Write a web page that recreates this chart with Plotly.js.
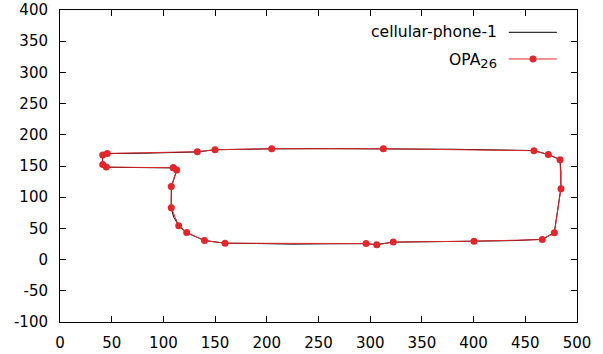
<!DOCTYPE html>
<html>
<head>
<meta charset="utf-8">
<script src="https://cdn.plot.ly/plotly-3.0.1.min.js"></script>
<style>html,body{margin:0;padding:0;background:#fff;}#chart{width:603px;height:354px;}</style>
</head>
<body>
<div id="chart"></div>
<script>
// cellular-phone-1 contour (black)
const phoneX = [109, 80, 45, 41.5, 41, 41.5, 45.5, 80, 132.5, 150, 204, 260, 313, 380, 458, 472, 483.5, 484.5, 484.3, 481, 478, 466, 440, 400, 360, 322, 306, 296, 260, 224, 190, 160, 140, 122.5, 115, 110, 107.5, 107.3, 107.8, 113, 109.5];
const phoneY = [147, 147.5, 148, 152, 160, 167.5, 170, 170.5, 172.5, 176, 177.5, 177.8, 177.6, 176.8, 174.8, 168.5, 160.5, 140, 113.5, 75, 43, 32.5, 30.5, 29.5, 28.6, 28, 24, 25.5, 25.3, 24.8, 25.8, 26.3, 30.5, 43, 54, 68, 83, 100, 117, 143.5, 147.2];
// OPA_26 approximation (red, 26 points, closed)
const opaX = [109.6, 44.8, 41.3, 41.3, 45.7, 132.8, 149.9, 204.7, 312.7, 458.4, 472.2, 483.6, 484.5, 478.1, 466.4, 400.4, 322.3, 306.3, 296.0, 159.6, 139.7, 122.5, 114.8, 107.6, 107.6, 112.9, 109.6];
const opaY = [147.2, 148.3, 152.5, 167.6, 170.1, 172.9, 176.1, 177.7, 177.7, 174.5, 168.5, 160.0, 113.5, 42.9, 32.1, 29.5, 28.1, 23.6, 25.7, 26.3, 30.5, 43.3, 54.1, 83.0, 117.2, 143.5, 147.2];
// tick labels
const yTickVals = [-100, -50, 0, 50, 100, 150, 200, 250, 300, 350, 400];
const yTickText = ["-100", "-50", "0", "50", "100", "150", "200", "250", "300", "350", "400"];
const legendNames = ["cellular-phone-1", "OPA<sub><span style='font-size:13px'>26</span></sub>"];
const red = "#e3262b";

const font = {family: "DejaVu Sans", size: 15, color: "#000"};
const legendFont = {family: "DejaVu Sans", size: 15.6, color: "#000"};
const traces = [
  {x: phoneX, y: phoneY, mode: "lines", line: {color: "#000", width: 1}, name: "cellular-phone-1", showlegend: false, hoverinfo: "skip"},
  {x: opaX, y: opaY, mode: "lines+markers", line: {color: red, width: 1}, marker: {color: red, size: 7}, name: "OPA26", showlegend: false}
];
const axisCommon = {showline: true, mirror: "allticks", linecolor: "#000", linewidth: 1,
  ticks: "inside", ticklen: 6, tickcolor: "#000", tickwidth: 1, showgrid: false, zeroline: false,
  tickfont: font, fixedrange: true};
const layout = {
  width: 603, height: 354,
  margin: {l: 60, r: 26, t: 10, b: 32, pad: 0},
  paper_bgcolor: "#fff", plot_bgcolor: "#fff",
  font: font,
  showlegend: false,
  xaxis: Object.assign({}, axisCommon, {range: [0, 500], tick0: 0, dtick: 50, ticklabelstandoff: 7}),
  yaxis: Object.assign({}, axisCommon, {range: [-100, 400], tickmode: "array", tickvals: yTickVals, ticktext: yTickText, ticklabelstandoff: 8}),
  annotations: [
    {xref: "paper", yref: "paper", x: 0.849, y: 0.9285, xanchor: "right", yanchor: "middle", text: legendNames[0], showarrow: false, font: legendFont},
    {xref: "paper", yref: "paper", x: 0.849, y: 0.838, xanchor: "right", yanchor: "middle", text: legendNames[1], showarrow: false, font: legendFont}
  ],
  shapes: [
    {type: "line", xref: "paper", yref: "paper", x0: 0.868, x1: 0.961, y0: 0.9285, y1: 0.9285, line: {color: "#000", width: 1}},
    {type: "line", xref: "paper", yref: "paper", x0: 0.868, x1: 0.961, y0: 0.843, y1: 0.843, line: {color: red, width: 1}},
    {type: "circle", xref: "paper", yref: "paper", x0: 0.915 - 0.0068, x1: 0.915 + 0.0068, y0: 0.843 - 0.0112, y1: 0.843 + 0.0112, fillcolor: red, line: {color: red, width: 0}}
  ]
};
Plotly.newPlot("chart", traces, layout, {displayModeBar: false, staticPlot: true});
</script>
</body>
</html>
